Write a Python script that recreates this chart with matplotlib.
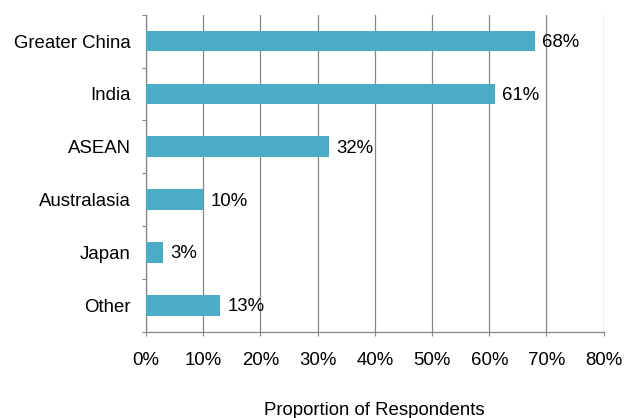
import matplotlib
matplotlib.use("Agg")
import matplotlib.pyplot as plt
import numpy as np

categories = ["Greater China", "India", "ASEAN", "Australasia", "Japan", "Other"]
values = [68, 61, 32, 10, 3, 13]
xticks = [0, 10, 20, 30, 40, 50, 60, 70, 80]
xtick_labels = [f"{v}%" for v in xticks]

plt.rcParams['font.family'] = ['Liberation Sans', 'DejaVu Sans']

W, H = 634, 418
FS = 13.4
fig = plt.figure(figsize=(W / 100, H / 100), dpi=100)
ax = fig.add_axes([146 / W, 1 - 331.7 / H, (603.7 - 146) / W, (331.7 - 14.7) / H])

bar_color = "#4BACC6"
grid_color = "#868686"
y = np.arange(len(categories))
ax.barh(y, values, height=0.39, color=bar_color, zorder=3)

for yi, v in zip(y, values):
    ax.annotate(f"{v}%", xy=(v, yi), xytext=(5, -1), textcoords="offset points",
                va="center", ha="left", fontsize=FS, color="#000000", zorder=4)

ax.set_xlim(0, 80)
ax.set_ylim(len(categories) - 0.5, -0.5)
ax.set_xticks(xticks)
ax.set_xticklabels(xtick_labels, fontsize=FS)
ax.set_yticks(y)
ax.set_yticklabels(categories, fontsize=FS)
ax.set_yticks(np.arange(len(categories) + 1) - 0.5, minor=True)

ax.tick_params(axis="y", which="major", length=0, pad=11)
ax.tick_params(axis="y", which="minor", length=3, width=0.8, color=grid_color, direction="out")
ax.tick_params(axis="x", which="major", length=3, width=0.8, color=grid_color, direction="out", pad=11.5)

ax.grid(axis="x", color=grid_color, linewidth=0.9, zorder=0)
ax.set_axisbelow(True)

for s in ["top", "right"]:
    ax.spines[s].set_visible(False)
for s in ["left", "bottom"]:
    ax.spines[s].set_color(grid_color)
    ax.spines[s].set_linewidth(0.9)

fig.text(374.5 / W, 1 - 415 / H, "Proportion of Respondents", ha="center", va="baseline",
         fontsize=FS)

fig.savefig("out.png", dpi=100)
